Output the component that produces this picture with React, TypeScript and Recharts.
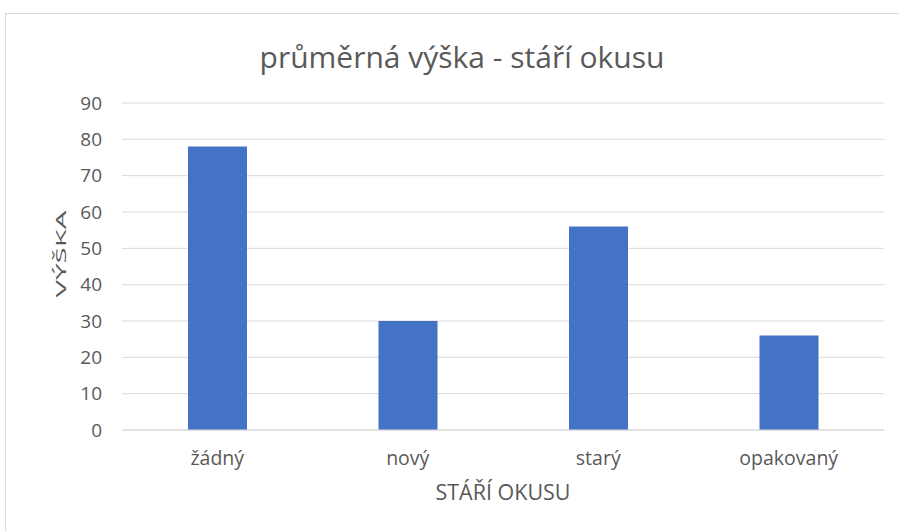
import React from 'react';
import { BarChart, Bar, XAxis, YAxis, CartesianGrid, Customized } from 'recharts';

const categories = ['žádný', 'nový', 'starý', 'opakovaný'];
const values = [78, 30, 56, 26];
const yTicks = [0, 10, 20, 30, 40, 50, 60, 70, 80, 90];
const title = 'průměrná výška - stáří okusu';
const xTitle = 'STÁŘÍ OKUSU';
const yTitle = 'VÝŠKA';

const data = categories.map((c, i) => ({ name: c, value: values[i] }));

const FONT = '"Open Sans", Lato, sans-serif';
const TEXT = '#595959';

const W = 900;
const H = 525;

export default function App() {
  return (
    <div
      style={{
        position: 'absolute',
        left: 5,
        top: 13,
        width: W,
        height: H,
        border: '1px solid #d9d9d9',
        background: '#fff',
        fontFamily: FONT,
      }}
    >
      <BarChart
        width={W}
        height={H}
        data={data}
        margin={{ top: 89, right: 22, left: 56, bottom: 0 }}
      >
        <CartesianGrid vertical={false} stroke="#d9d9d9" strokeWidth={1} />
        <XAxis
          dataKey="name"
          height={109}
          axisLine={{ stroke: '#d9d9d9', strokeWidth: 1 }}
          tickLine={false}
          tickSize={0}
          tickMargin={21}
          tick={{ fill: TEXT, fontSize: 19.5, fontFamily: FONT }}
          label={{
            content: (props: any) => {
              const vb = props.viewBox;
              return (
                <text
                  x={vb.x + vb.width / 2}
                  y={486}
                  textAnchor="middle"
                  fill={TEXT}
                  fontSize={21.5}
                  fontFamily={FONT}
                >
                  {xTitle}
                </text>
              );
            },
          }}
        />
        <YAxis
          width={60}
          domain={[0, 90]}
          ticks={yTicks}
          axisLine={false}
          tickLine={false}
          tickSize={0}
          tickMargin={20}
          tick={{ fill: TEXT, fontSize: 19, fontFamily: FONT }}
          label={{
            content: () => {
              const cx = 54;
              const cy = 240;
              return (
                <text
                  x={cx}
                  y={cy}
                  transform={`rotate(-90 ${cx} ${cy})`}
                  textAnchor="middle"
                  dominantBaseline="central"
                  fill={TEXT}
                  fontSize={14}
                  fontFamily={FONT}
                  textLength={87}
                  lengthAdjust="spacingAndGlyphs"
                >
                  {yTitle}
                </text>
              );
            },
          }}
        />
        <Bar dataKey="value" fill="#4472C4" barSize={59} isAnimationActive={false} />
        <Customized
          component={() => (
            <text
              x={456}
              y={54}
              textAnchor="middle"
              fill={TEXT}
              fontSize={30}
              fontFamily={FONT}
            >
              {title}
            </text>
          )}
        />
      </BarChart>
    </div>
  );
}
